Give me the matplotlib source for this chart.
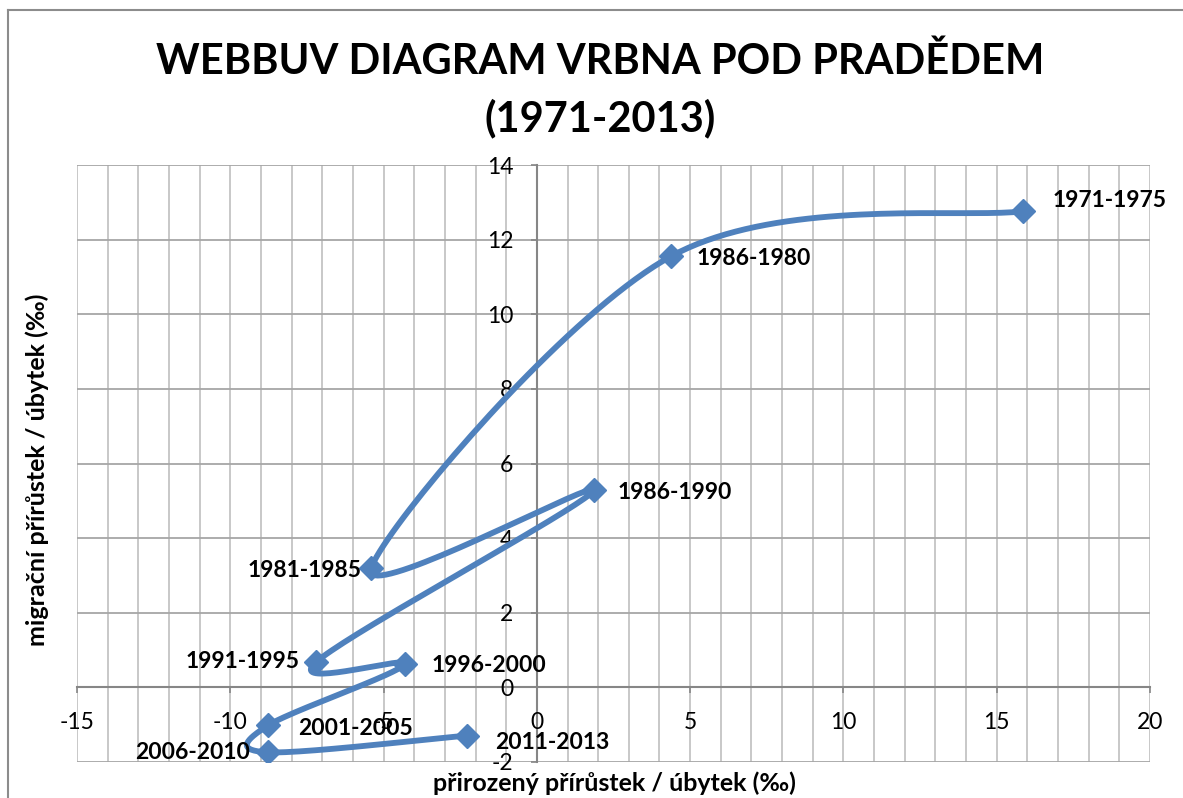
import numpy as np
import matplotlib
matplotlib.use("Agg")
import matplotlib.pyplot as plt
from matplotlib.lines import Line2D

plt.rcParams['font.family'] = ['Lato', 'DejaVu Sans']
plt.rcParams['axes.unicode_minus'] = False

# === DATA ===
periods = ["1971-1975", "1986-1980", "1981-1985", "1986-1990", "1991-1995",
           "1996-2000", "2001-2005", "2006-2010", "2011-2013"]
natural = [15.85, 4.37, -5.41, 1.86, -7.21, -4.31, -8.77, -8.77, -2.28]
migration = [12.76, 11.55, 3.19, 5.28, 0.67, 0.62, -1.02, -1.74, -1.29]

# label placement (pixels from the marker), alignment
label_offsets = [(30, 11, 'left'), (26, -2, 'left'), (-9, -2, 'right'),
                 (24, -2, 'left'), (-16, 1, 'right'), (27, -1, 'left'),
                 (30, -3, 'left'), (-18, 0, 'right'), (28, -7, 'left')]

BLUE = '#4F81BD'


# === Excel-like smoothed line (Catmull-Rom / cubic Bezier) ===
def smooth_line(xs, ys, steps=40):
    pts = np.column_stack([xs, ys])
    n = len(pts)
    out = []
    for i in range(n - 1):
        p0 = pts[max(i - 1, 0)]
        p1 = pts[i]
        p2 = pts[i + 1]
        p3 = pts[min(i + 2, n - 1)]
        c1 = p1 + (p2 - p0) / 6.0
        c2 = p2 - (p3 - p1) / 6.0
        t = np.linspace(0, 1, steps)[:, None]
        seg = ((1 - t) ** 3) * p1 + 3 * ((1 - t) ** 2) * t * c1 \
            + 3 * (1 - t) * t ** 2 * c2 + t ** 3 * p2
        out.append(seg if i == 0 else seg[1:])
    out = np.vstack(out)
    return out[:, 0], out[:, 1]


fig = plt.figure(figsize=(11.83, 7.98), dpi=100)
ax = fig.add_axes([77 / 1183, 1 - 762 / 798, (1150 - 77) / 1183, (762 - 165) / 798])

ax.set_xlim(-15, 20)
ax.set_ylim(-2, 14)

# grid
for gx in range(-15, 21):
    ax.axvline(gx, color='#BFBFBF', lw=1.2, zorder=0)
for gy in range(-2, 15, 2):
    ax.axhline(gy, color='#A6A6A6', lw=1.3, zorder=0)

# axes through zero
ax.spines['top'].set_visible(False)
ax.spines['right'].set_visible(False)
ax.spines['left'].set_position(('data', 0))
ax.spines['bottom'].set_position(('data', 0))
for s in ('left', 'bottom'):
    ax.spines[s].set_color('#868686')
    ax.spines[s].set_linewidth(1.5)
    ax.spines[s].set_zorder(1)

ax.set_xticks(range(-15, 21, 5))
ax.set_yticks(range(-2, 15, 2))
ax.tick_params(axis='both', colors='#868686', length=4, width=1.2,
               labelcolor='black', labelsize=16.5, pad=13)
ax.tick_params(axis='x', pad=14)

# curve and markers
sx, sy = smooth_line(natural, migration)
ax.plot(sx, sy, color=BLUE, lw=4.2, solid_capstyle='round', zorder=3)
ax.plot(natural, migration, linestyle='none', marker='D', markersize=12,
        color=BLUE, zorder=4)

for name, x, y, (dx, dy, ha) in zip(periods, natural, migration, label_offsets):
    ax.annotate(name, (x, y), xytext=(dx, dy), textcoords='offset pixels',
                ha=ha, va='center', fontsize=16.5, fontweight='bold', zorder=5)

# titles and axis labels
fig.text(600 / 1183, 1 - 62 / 798, "WEBBUV DIAGRAM VRBNA POD PRADĚDEM",
         ha='center', va='center', fontsize=30, fontweight='bold')
fig.text(600 / 1183, 1 - 118 / 798, "(1971-2013)",
         ha='center', va='center', fontsize=30, fontweight='bold')
fig.text(614 / 1183, 1 - 783 / 798, "přirozený přírůstek / úbytek (‰)",
         ha='center', va='center', fontsize=18, fontweight='bold')
fig.text(37 / 1183, 1 - 470 / 798, "migrační přírůstek / úbytek (‰)",
         ha='center', va='center', rotation=90, fontsize=18, fontweight='bold')

# chart area border (cropped on right/bottom)
x0 = 8 / 1183
y0 = 1 - 10 / 798
fig.add_artist(Line2D([x0, x0], [0, y0], transform=fig.transFigure, color='#8C8C8C', lw=1.5))
fig.add_artist(Line2D([x0, 1], [y0, y0], transform=fig.transFigure, color='#8C8C8C', lw=1.5))

fig.savefig("out.png", dpi=100)
